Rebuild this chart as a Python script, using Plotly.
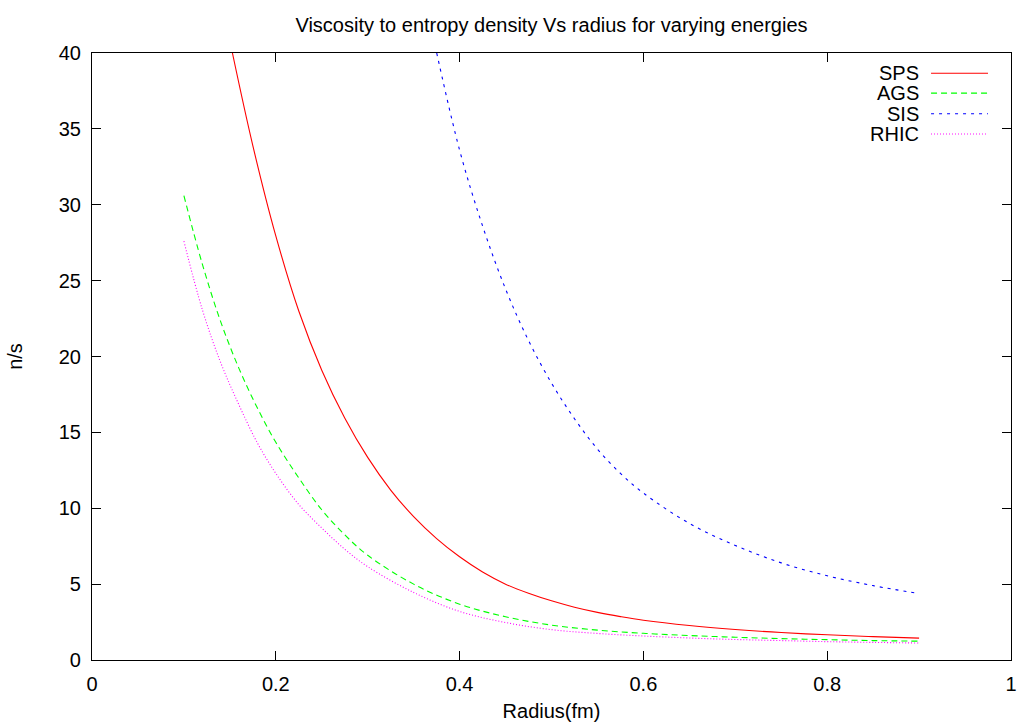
import plotly.graph_objects as go

# ---- data ----
sps_x = [0.1528, 0.175, 0.20, 0.225, 0.25, 0.275, 0.30, 0.325, 0.35, 0.375, 0.40, 0.425, 0.45, 0.475, 0.50, 0.525, 0.55, 0.575, 0.60, 0.65, 0.70, 0.75, 0.80, 0.85, 0.90]
sps_y = [40.0, 33.9, 27.95, 23.0, 19.1, 15.95, 13.35, 11.2, 9.45, 8.0, 6.8, 5.8, 5.0, 4.4, 3.9, 3.48, 3.14, 2.86, 2.62, 2.27, 2.01, 1.81, 1.66, 1.54, 1.44]

ags_x = [0.10, 0.12, 0.14, 0.16, 0.18, 0.20, 0.225, 0.25, 0.275, 0.30, 0.35, 0.40, 0.45, 0.50, 0.55, 0.60, 0.65, 0.70, 0.75, 0.80, 0.85, 0.90]
ags_y = [30.6, 26.1, 22.3, 19.2, 16.6, 14.35, 12.0, 9.9, 8.25, 6.9, 5.0, 3.68, 2.85, 2.3, 1.97, 1.76, 1.61, 1.5, 1.41, 1.34, 1.28, 1.24]

sis_x = [0.3751, 0.40, 0.425, 0.45, 0.475, 0.50, 0.525, 0.55, 0.575, 0.60, 0.65, 0.70, 0.75, 0.80, 0.85, 0.90]
sis_y = [40.0, 33.6, 28.6, 24.45, 21.05, 18.25, 15.9, 13.9, 12.3, 11.0, 9.0, 7.55, 6.4, 5.55, 4.9, 4.38]

rhic_x = [0.10, 0.12, 0.14, 0.16, 0.18, 0.20, 0.225, 0.25, 0.275, 0.30, 0.35, 0.40, 0.45, 0.50, 0.55, 0.60, 0.65, 0.70, 0.75, 0.80, 0.85, 0.90]
rhic_y = [27.6, 23.1, 19.6, 16.8, 14.3, 12.3, 10.25, 8.7, 7.3, 6.15, 4.45, 3.2, 2.47, 2.0, 1.75, 1.58, 1.45, 1.35, 1.28, 1.21, 1.16, 1.12]

series_names = ["SPS", "AGS", "SIS", "RHIC"]
series_colors = ["#ff0000", "#00ff00", "#0000ff", "#ff00ff"]
series_dash = ["solid", "6px,4px", "3px,5px", "1px,2px"]

x_ticks = [0, 0.2, 0.4, 0.6, 0.8, 1]
x_tick_text = ["0", "0.2", "0.4", "0.6", "0.8", "1"]
y_ticks = [0, 5, 10, 15, 20, 25, 30, 35, 40]

FONT = "Liberation Sans, Arial, sans-serif"
FS = 20

fig = go.Figure()
data = [(sps_x, sps_y), (ags_x, ags_y), (sis_x, sis_y), (rhic_x, rhic_y)]
for (xs, ys), name, col, dash in zip(data, series_names, series_colors, series_dash):
    fig.add_trace(go.Scatter(
        x=xs, y=ys, mode="lines", name=name,
        line=dict(color=col, width=1.1, dash=dash, shape="spline", smoothing=1.0),
        showlegend=False,
    ))

# gnuplot-style legend (text on the left, sample on the right)
row_y = [0.9667, 0.9339, 0.8998, 0.8665]
for name, col, dash, yy in zip(series_names, series_colors, series_dash, row_y):
    fig.add_annotation(x=0.9016, y=yy, xref="paper", yref="paper", text=name,
                       showarrow=False, xanchor="right", yanchor="middle",
                       font=dict(family=FONT, size=FS, color="black"))
    fig.add_shape(type="line", xref="paper", yref="paper",
                  x0=0.9130, x1=0.9750, y0=yy, y1=yy,
                  line=dict(color=col, width=1.1, dash=dash))

axis_common = dict(
    showgrid=False, zeroline=False, showline=True, linecolor="black", linewidth=1.2,
    mirror="ticks", ticks="inside", ticklen=9, tickwidth=1, tickcolor="black",
    tickfont=dict(family=FONT, size=FS, color="black"),
)

fig.update_layout(
    width=1026, height=727,
    margin=dict(l=92, r=9, t=53, b=65),
    paper_bgcolor="white", plot_bgcolor="white",
    title=dict(text="Viscosity to entropy density Vs radius for varying energies",
               x=0.5, xref="paper", xanchor="center", y=1 - 24.5 / 727, yanchor="middle",
               font=dict(family=FONT, size=FS, color="black")),
    xaxis=dict(range=[0, 1], tickvals=x_ticks, ticktext=x_tick_text,
               title=dict(text="Radius(fm)", font=dict(family=FONT, size=FS, color="black"), standoff=9),
               ticklabelstandoff=6, **axis_common),
    yaxis=dict(range=[0, 40], tickvals=y_ticks,
               title=dict(text="n/s", font=dict(family=FONT, size=FS, color="black"), standoff=30),
               ticklabelstandoff=6, **axis_common),
)

fig.write_html("out.html")
